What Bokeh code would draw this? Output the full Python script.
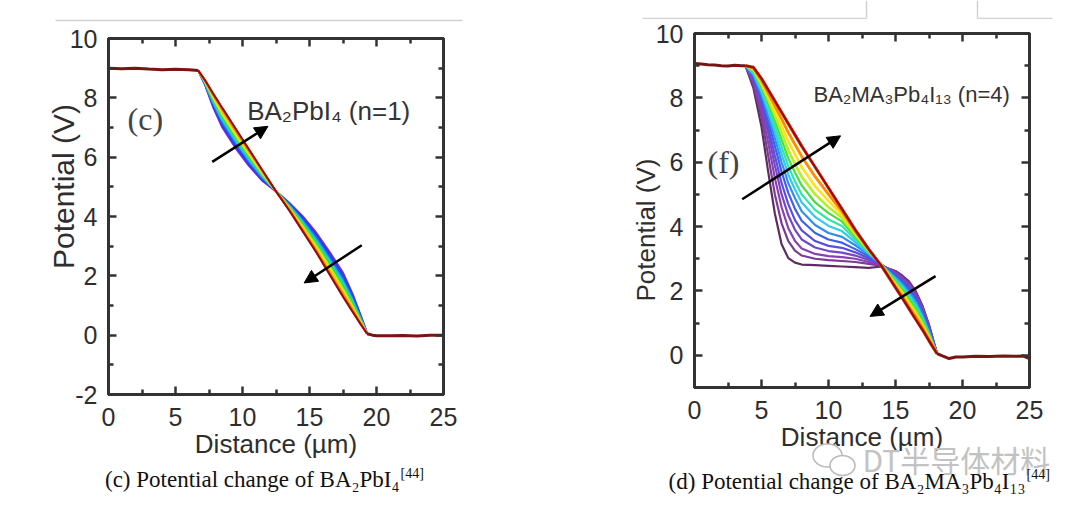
from bokeh.plotting import figure
from bokeh.models import (Range1d, LinearAxis, Label, Arrow, NormalHead,
                          FixedTicker, CustomJSTickFormatter)
from bokeh.layouts import row, column
from bokeh.embed import file_html
from bokeh.resources import INLINE

# ---------------- ticks ----------------
X_MAJOR = [0, 5, 10, 15, 20, 25]
X_MINOR = [2.5, 7.5, 12.5, 17.5, 22.5]
L_Y_MAJOR = [-2, 0, 2, 4, 6, 8, 10]
L_Y_MINOR = [-1, 1, 3, 5, 7, 9]
R_Y_MAJOR = [0, 2, 4, 6, 8, 10]
R_Y_MINOR = [-1, 1, 3, 5, 7, 9]

# ---------------- left panel data: BA2PbI4 (n=1) ----------------
L_HEAD_X = [0, 1, 2, 3, 4, 5, 6, 6.7]
L_HEAD_V = [9.0, 8.98, 9.0, 8.97, 8.95, 8.96, 8.95, 8.92]
L_TAIL_X = [19.3, 19.7, 20, 21, 22, 23, 24, 25]
L_TAIL_V = [0.05, 0.0, -0.02, -0.02, -0.01, -0.03, 0.0, 0.0]
L_X = [6.7, 7.2, 7.8, 8.5, 9.5, 10.5, 11.5, 12.5, 13.5, 14.5, 15.5, 16.5, 17.5, 18.2, 18.8, 19.3]
L_V0 = [8.92, 8.45, 7.70, 7.00, 6.30, 5.70, 5.20, 4.85, 4.45, 4.00, 3.45, 2.80, 2.10, 1.40, 0.68, 0.05]
L_V1 = [8.92, 8.47, 7.75, 7.07, 6.37, 5.76, 5.24, 4.85, 4.42, 3.95, 3.38, 2.72, 2.01, 1.33, 0.65, 0.05]
L_V2 = [8.92, 8.48, 7.80, 7.14, 6.44, 5.82, 5.28, 4.85, 4.39, 3.89, 3.31, 2.63, 1.92, 1.27, 0.62, 0.05]
L_V3 = [8.92, 8.50, 7.85, 7.22, 6.52, 5.88, 5.32, 4.85, 4.37, 3.83, 3.23, 2.55, 1.83, 1.20, 0.58, 0.05]
L_V4 = [8.92, 8.52, 7.90, 7.29, 6.59, 5.94, 5.36, 4.85, 4.34, 3.78, 3.16, 2.47, 1.75, 1.14, 0.55, 0.05]
L_V5 = [8.92, 8.53, 7.95, 7.36, 6.66, 6.01, 5.40, 4.85, 4.31, 3.72, 3.09, 2.38, 1.65, 1.07, 0.51, 0.05]
L_V6 = [8.92, 8.55, 8.00, 7.43, 6.73, 6.07, 5.43, 4.85, 4.28, 3.67, 3.02, 2.30, 1.56, 0.99, 0.48, 0.05]
L_V7 = [8.92, 8.57, 8.05, 7.50, 6.80, 6.13, 5.47, 4.85, 4.25, 3.61, 2.94, 2.22, 1.47, 0.93, 0.45, 0.05]
L_V8 = [8.92, 8.58, 8.10, 7.58, 6.88, 6.19, 5.51, 4.85, 4.23, 3.56, 2.87, 2.13, 1.39, 0.87, 0.41, 0.05]
L_V9 = [8.92, 8.60, 8.15, 7.65, 6.95, 6.25, 5.55, 4.85, 4.20, 3.50, 2.80, 2.05, 1.30, 0.80, 0.38, 0.05]
L_CURVES = [L_V0, L_V1, L_V2, L_V3, L_V4, L_V5, L_V6, L_V7, L_V8, L_V9]
L_COLORS = ["#7b2fd6", "#3b30e8", "#1f5cf0", "#1fa8f0", "#20d8c8",
            "#30e040", "#b0ee20", "#f8e010", "#ff8a00", "#d81010"]

# ---------------- right panel data: BA2MA3Pb4I13 (n=4) ----------------
R_HEAD_X = [0, 0.5, 1, 1.5, 2, 2.5, 3, 3.5, 3.8]
R_HEAD_V = [9.07, 9.05, 9.03, 9.02, 9.0, 8.99, 9.01, 9.0, 9.0]
R_TAIL_X = [18.1, 18.5, 19, 19.5, 20, 21, 22, 23, 24, 24.5, 25]
R_TAIL_V = [0.05, -0.02, -0.1, -0.05, -0.05, -0.03, -0.04, -0.02, -0.03, -0.02, -0.1]
R_X = [3.8, 4.4, 5.0, 5.5, 6.0, 6.5, 7.0, 7.5, 8.0, 9.0, 10.0, 11.0,
       12.0, 13.0, 14.0, 15.0, 15.5, 16.0, 16.5, 17.0, 17.5, 18.1]
R_V0 = [9.0, 8.30, 7.10, 5.70, 4.40, 3.45, 3.02, 2.88, 2.82, 2.80, 2.78, 2.76, 2.74, 2.72, 2.76, 2.62, 2.48, 2.30, 2.00, 1.55, 0.95, 0.05]
R_V1 = [9.0, 8.40, 7.40, 6.20, 5.00, 4.10, 3.55, 3.25, 3.10, 3.00, 2.96, 2.93, 2.90, 2.84, 2.78, 2.60, 2.45, 2.26, 1.96, 1.52, 0.92, 0.05]
R_V2 = [9.0, 8.50, 7.60, 6.60, 5.50, 4.60, 3.95, 3.55, 3.32, 3.15, 3.08, 3.05, 3.00, 2.90, 2.79, 2.57, 2.41, 2.21, 1.91, 1.48, 0.89, 0.05]
R_V3 = [9.0, 8.55, 7.75, 6.90, 5.90, 5.00, 4.35, 3.90, 3.60, 3.35, 3.24, 3.19, 3.10, 2.96, 2.80, 2.54, 2.37, 2.16, 1.86, 1.43, 0.86, 0.05]
R_V4 = [9.0, 8.60, 7.90, 7.10, 6.20, 5.35, 4.70, 4.20, 3.88, 3.55, 3.40, 3.34, 3.20, 3.02, 2.80, 2.50, 2.32, 2.10, 1.80, 1.38, 0.82, 0.05]
R_V5 = [9.0, 8.65, 8.00, 7.30, 6.50, 5.70, 5.05, 4.55, 4.18, 3.80, 3.60, 3.50, 3.30, 3.08, 2.80, 2.46, 2.27, 2.04, 1.74, 1.32, 0.78, 0.05]
R_V6 = [9.0, 8.70, 8.10, 7.45, 6.75, 6.00, 5.35, 4.88, 4.48, 4.05, 3.80, 3.68, 3.42, 3.13, 2.80, 2.42, 2.22, 1.97, 1.67, 1.26, 0.74, 0.05]
R_V7 = [9.0, 8.75, 8.20, 7.60, 6.95, 6.25, 5.62, 5.15, 4.75, 4.30, 4.02, 3.86, 3.52, 3.17, 2.79, 2.38, 2.16, 1.90, 1.60, 1.20, 0.70, 0.05]
R_V8 = [9.0, 8.80, 8.28, 7.72, 7.12, 6.48, 5.88, 5.40, 5.00, 4.52, 4.22, 4.02, 3.60, 3.20, 2.79, 2.33, 2.10, 1.82, 1.52, 1.13, 0.66, 0.05]
R_V9 = [9.0, 8.83, 8.35, 7.85, 7.30, 6.70, 6.12, 5.68, 5.28, 4.75, 4.42, 4.16, 3.68, 3.23, 2.78, 2.28, 2.04, 1.74, 1.44, 1.06, 0.62, 0.05]
R_V10 = [9.0, 8.86, 8.42, 7.95, 7.45, 6.92, 6.38, 5.95, 5.55, 5.00, 4.60, 4.28, 3.75, 3.25, 2.78, 2.23, 1.97, 1.66, 1.36, 0.99, 0.58, 0.05]
R_V11 = [9.0, 8.90, 8.48, 8.05, 7.60, 7.12, 6.65, 6.25, 5.85, 5.25, 4.80, 4.38, 3.80, 3.27, 2.77, 2.18, 1.90, 1.58, 1.28, 0.92, 0.53, 0.05]
R_V12 = [9.0, 8.92, 8.54, 8.15, 7.75, 7.35, 6.92, 6.55, 6.18, 5.55, 5.00, 4.47, 3.85, 3.29, 2.76, 2.14, 1.84, 1.51, 1.20, 0.86, 0.49, 0.05]
R_V13 = [9.0, 8.95, 8.60, 8.25, 7.90, 7.55, 7.20, 6.85, 6.50, 5.85, 5.20, 4.55, 3.90, 3.30, 2.75, 2.10, 1.78, 1.45, 1.12, 0.80, 0.45, 0.05]
R_CURVES = [R_V0, R_V1, R_V2, R_V3, R_V4, R_V5, R_V6, R_V7, R_V8, R_V9, R_V10, R_V11, R_V12, R_V13]
R_COLORS = ["#5e2b62", "#7a3a96", "#8a40b4", "#7446c8", "#5a4fdc", "#3d5fea", "#2b90f0",
            "#2fcbee", "#2fe6a8", "#4ade3a", "#b6ef22", "#fde21a", "#ff8c00", "#d81a0a"]
R_WIDTHS = [2.2] * 10 + [2.6, 2.6, 2.8, 3.0]

# ---------------- page decorations (pixel coordinates of the strips / captions) ----------------
RULE_L = dict(x0=[55], y0=[20], x1=[462], y1=[20])
RULE_R = dict(x0=[102, 326, 437, 437], y0=[18, 0, 0, 18], x1=[326, 326, 437, 512], y1=[18, 18, 18, 18])
ICON_X = [287, 302]
ICON_Y = [21, 31]
ICON_W = [29, 25]
ICON_H = [23, 20]

EDGE = "#7a1414"
AXC = "#333333"
TXT = "#2e2e2e"
EN = "\u2002"


def style_axis(ax, show_labels, label_standoff, axis_label_standoff):
    ax.axis_line_color = AXC
    ax.axis_line_width = 3
    ax.major_tick_in = 8
    ax.major_tick_out = 0
    ax.minor_tick_in = 5
    ax.minor_tick_out = 0
    ax.major_tick_line_color = AXC
    ax.major_tick_line_width = 2.5
    ax.minor_tick_line_color = AXC
    ax.minor_tick_line_width = 2.5
    ax.major_label_text_font = "Liberation Sans"
    ax.major_label_text_font_size = "25px"
    ax.major_label_text_color = TXT
    ax.major_label_standoff = label_standoff
    ax.axis_label_text_font = "Liberation Sans"
    ax.axis_label_text_font_size = "26px"
    ax.axis_label_text_font_style = "normal"
    ax.axis_label_text_color = TXT
    ax.axis_label_standoff = axis_label_standoff
    if not show_labels:
        ax.formatter = CustomJSTickFormatter(code="return ''")
        ax.major_label_text_font_size = "0px"
        ax.major_label_standoff = 0


def panel(h, y0, y1, ymaj, ymin, bl, br, bt, bb, ylabel, ylabel_size, ylabel_standoff):
    p = figure(width=540, height=h, x_range=Range1d(0, 25), y_range=Range1d(y0, y1),
               output_backend="svg", toolbar_location=None,
               min_border_left=bl, min_border_right=br, min_border_top=bt, min_border_bottom=bb,
               background_fill_color="white", border_fill_color="white")
    p.grid.visible = False
    p.outline_line_color = AXC
    p.outline_line_width = 3
    p.xaxis.ticker = FixedTicker(ticks=X_MAJOR, minor_ticks=X_MINOR)
    p.yaxis.ticker = FixedTicker(ticks=ymaj, minor_ticks=ymin)
    p.xaxis.axis_label = "Distance (\u00b5m)"
    p.yaxis.axis_label = ylabel
    style_axis(p.xaxis[0], True, 13, 0)
    style_axis(p.yaxis[0], True, 11, ylabel_standoff)
    p.yaxis.axis_label_text_font_size = ylabel_size
    p.yaxis.major_label_overrides = {-2: "-2"}
    top = LinearAxis(ticker=FixedTicker(ticks=X_MAJOR, minor_ticks=X_MINOR))
    right = LinearAxis(ticker=FixedTicker(ticks=ymaj, minor_ticks=ymin))
    style_axis(top, False, 0, 0)
    style_axis(right, False, 0, 0)
    p.add_layout(top, "above")
    p.add_layout(right, "right")
    return p


def deco_fig(w, h):
    f = figure(width=w, height=h, x_range=Range1d(0, w), y_range=Range1d(h, 0),
               x_axis_type=None, y_axis_type=None, output_backend="svg", toolbar_location=None,
               min_border_left=0, min_border_right=0, min_border_top=0, min_border_bottom=0,
               background_fill_alpha=0, border_fill_alpha=0)
    f.outline_line_color = None
    return f


def arrow(p, x0, y0, x1, y1):
    p.add_layout(Arrow(end=NormalHead(size=13, fill_color="black", line_color="black"),
                       x_start=x0, y_start=y0, x_end=x1, y_end=y1,
                       line_color="black", line_width=2.5))


# ---------------- left column ----------------
stripL = deco_fig(540, 22)
stripL.segment(line_color="#d2d2d2", line_width=1.5, **RULE_L)

pl = panel(444, -2, 10, L_Y_MAJOR, L_Y_MINOR, 108, 97, 16, 72,
           EN * 4 + "Potential (V)", "30px", -13)
for vals, col in zip(L_CURVES, L_COLORS):
    pl.line(L_X, vals, line_color=col, line_width=2.2)
pl.line(L_X, L_V9, line_color=EDGE, line_width=1.4)
pl.line(L_HEAD_X, L_HEAD_V, line_color=EDGE, line_width=3)
pl.line(L_TAIL_X, L_TAIL_V, line_color=EDGE, line_width=3)
arrow(pl, 7.74, 5.84, 11.9, 7.04)
arrow(pl, 18.9, 3.03, 14.6, 1.76)
pl.add_layout(Label(x=10.35, y=7.55, text="BA\u2082PbI\u2084 (n=1)", text_font="Liberation Sans",
                    text_font_size="26px", text_color="#333333", text_baseline="middle"))
pl.add_layout(Label(x=1.42, y=7.3, text="(c)", text_font="Liberation Serif",
                    text_font_size="32px", text_color="#444444", text_baseline="middle"))

capL = deco_fig(540, 48)
capL.add_layout(Label(x=399, y=19, text="(c) Potential change of BA\u2082PbI\u2084",
                      text_font="Liberation Serif", text_font_size="23px", text_color="#111111",
                      text_align="right", text_baseline="middle"))
capL.add_layout(Label(x=400, y=13, text="[44]", text_font="Liberation Serif",
                      text_font_size="14px", text_color="#111111", text_baseline="middle"))

# ---------------- right column ----------------
stripR = deco_fig(540, 19)
stripR.segment(line_color="#d2d2d2", line_width=1.5, **RULE_R)

pr = panel(441, -1, 10, R_Y_MAJOR, R_Y_MINOR, 154, 51, 14, 73,
           "Potential (V)" + EN * 3, "26px", -8)
for vals, col, w in zip(R_CURVES, R_COLORS, R_WIDTHS):
    pr.line(R_X, vals, line_color=col, line_width=w)
pr.line(R_X, R_V13, line_color=EDGE, line_width=1.4)
pr.line(R_HEAD_X, R_HEAD_V, line_color=EDGE, line_width=3)
pr.line(R_TAIL_X, R_TAIL_V, line_color=EDGE, line_width=3)
arrow(pr, 3.56, 4.85, 10.9, 6.82)
arrow(pr, 17.99, 2.46, 13.1, 1.21)
pr.add_layout(Label(x=8.88, y=8.1, text="BA\u2082MA\u2083Pb\u2084I\u2081\u2083 (n=4)", text_font="Liberation Sans",
                    text_font_size="22px", text_color="#333333", text_baseline="middle"))
pr.add_layout(Label(x=0.97, y=6.0, text="(f)", text_font="Liberation Serif",
                    text_font_size="32px", text_color="#444444", text_baseline="middle"))

capR = deco_fig(540, 74)
capR.ellipse(x=ICON_X, y=ICON_Y, width=ICON_W, height=ICON_H,
             fill_color="white", line_color="#bcbcbc", line_width=1.6)
capR.add_layout(Label(x=322, y=24, text="DT\u534a\u5bfc\u4f53\u6750\u6599", text_font="Noto Sans CJK SC",
                      text_font_size="30px", text_color="#c2c2c2", text_baseline="middle"))
capR.add_layout(Label(x=485, y=47, text="(d) Potential change of BA\u2082MA\u2083Pb\u2084I\u2081\u2083",
                      text_font="Liberation Serif", text_font_size="23px", text_color="#111111",
                      text_align="right", text_baseline="middle"))
capR.add_layout(Label(x=486, y=40, text="[44]", text_font="Liberation Serif",
                      text_font_size="14px", text_color="#111111", text_baseline="middle"))

left_col = column(row(stripL), pl, row(capL, margin=(-6, 0, 0, 0)))
right_col = column(row(stripR), pr, row(capR, margin=(-26, 0, 0, 0)))
layout = row(left_col, right_col)
open("out.html", "w").write(file_html(layout, INLINE))
